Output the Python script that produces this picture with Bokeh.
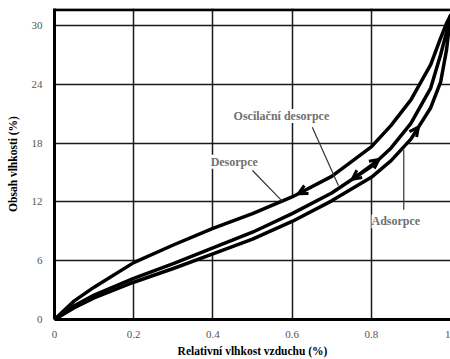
import numpy as np
from bokeh.plotting import figure
from bokeh.models import Range1d, FixedTicker, Span, Label, Arrow, OpenHead
from bokeh.embed import file_html
from bokeh.resources import INLINE

# --- data ---
rel_humidity = [0, 0.05, 0.1, 0.2, 0.3, 0.4, 0.5, 0.6, 0.7, 0.8, 0.85, 0.9, 0.95, 0.975, 0.99, 1.0]
desorption   = [0, 1.9, 3.3, 5.8, 7.6, 9.3, 10.8, 12.5, 14.6, 17.6, 19.8, 22.4, 26.0, 28.7, 30.2, 31.0]
oscillation  = [0, 1.4, 2.5, 4.2, 5.7, 7.3, 8.9, 10.8, 12.9, 15.6, 17.5, 20.0, 23.6, 27.0, 29.3, 31.0]
adsorption   = [0, 1.2, 2.2, 3.8, 5.2, 6.7, 8.2, 10.0, 12.1, 14.5, 16.2, 18.4, 21.6, 24.2, 27.5, 31.0]

x_ticks = [0, 0.2, 0.4, 0.6, 0.8, 1]
x_tick_labels = ["0", "0.2", "0.4", "0.6", "0.8", "1"]
y_ticks = [0, 6, 12, 18, 24, 30]

SERIF = "Liberation Serif"
TXT_GRAY = "#707070"

p = figure(width=450, height=359, output_backend="svg", toolbar_location=None,
           x_range=Range1d(0, 1), y_range=Range1d(0, 31.72),
           min_border_left=54, min_border_right=0, min_border_top=8, min_border_bottom=36)
p.outline_line_color = None
p.background_fill_color = "white"
p.border_fill_color = "white"

# axes
p.xaxis.ticker = FixedTicker(ticks=x_ticks)
p.xaxis.major_label_overrides = {t: l for t, l in zip(x_ticks, x_tick_labels)}
p.yaxis.ticker = FixedTicker(ticks=y_ticks)
for ax in (p.xaxis, p.yaxis):
    ax.axis_line_width = 3
    ax.axis_line_color = "black"
    ax.major_tick_line_color = None
    ax.minor_tick_line_color = None
    ax.major_label_text_font = SERIF
    ax.major_label_text_font_size = "11px"
    ax.major_label_text_color = "#555555"
    ax.axis_label_text_font = SERIF
    ax.axis_label_text_font_size = "11.5px"
    ax.axis_label_text_font_style = "bold"
    ax.axis_label_text_color = "black"
p.xaxis.axis_label = "Relativní vlhkost vzduchu (%)"
p.yaxis.axis_label = "Obsah vlhkosti (%)"
p.xaxis.major_label_standoff = 5
p.xaxis.axis_label_standoff = 4
p.yaxis.major_label_standoff = 6
p.yaxis.axis_label_standoff = 10

# grid
p.grid.grid_line_color = "#1a1a1a"
p.grid.grid_line_width = 1.5
p.grid.grid_line_alpha = 1

# top frame line
p.add_layout(Span(location=31.58, dimension="width", line_color="black", line_width=3))

# white band between the curves (hides grid)
p.varea(x=rel_humidity, y1=adsorption, y2=desorption, fill_color="white")

for ys in (desorption, oscillation, adsorption):
    p.line(rel_humidity, ys, line_color="black", line_width=3.5, line_join="round", line_cap="round")

def on(curve, xv):
    return float(np.interp(xv, rel_humidity, curve))

# arrows
def head():
    return OpenHead(size=9, line_width=3, line_color="black")

p.add_layout(Arrow(end=head(), x_start=0.66, y_start=on(desorption, 0.66),
                   x_end=0.616, y_end=on(desorption, 0.616), line_alpha=0))
p.add_layout(Arrow(start=head(), end=head(), x_start=0.752, y_start=on(oscillation, 0.752),
                   x_end=0.819, y_end=on(oscillation, 0.819), line_width=3, line_color="black"))
p.add_layout(Arrow(end=head(), x_start=0.88, y_start=on(adsorption, 0.88),
                   x_end=0.919, y_end=on(adsorption, 0.919), line_alpha=0))

# leader lines
p.segment(x0=[0.50, 0.651, 0.882], y0=[15.2, 19.6, 11.2],
          x1=[0.575, 0.717, 0.882],
          y1=[on(desorption, 0.575), on(oscillation, 0.717) + 0.3, on(adsorption, 0.882) - 0.3],
          line_color="#333333", line_width=1.2)

# labels
for txt, lx, ly in (("Oscilační desorpce", 0.573, 20.75),
                    ("Desorpce", 0.454, 16.1),
                    ("Adsorpce", 0.862, 10.0)):
    p.add_layout(Label(x=lx, y=ly, text=txt, text_align="center", text_baseline="middle",
                       text_font=SERIF, text_font_size="12px", text_font_style="bold",
                       text_color=TXT_GRAY, background_fill_color="white",
                       background_fill_alpha=1))

open("out.html", "w").write(file_html(p, INLINE, title="Sorpční izoterma"))
